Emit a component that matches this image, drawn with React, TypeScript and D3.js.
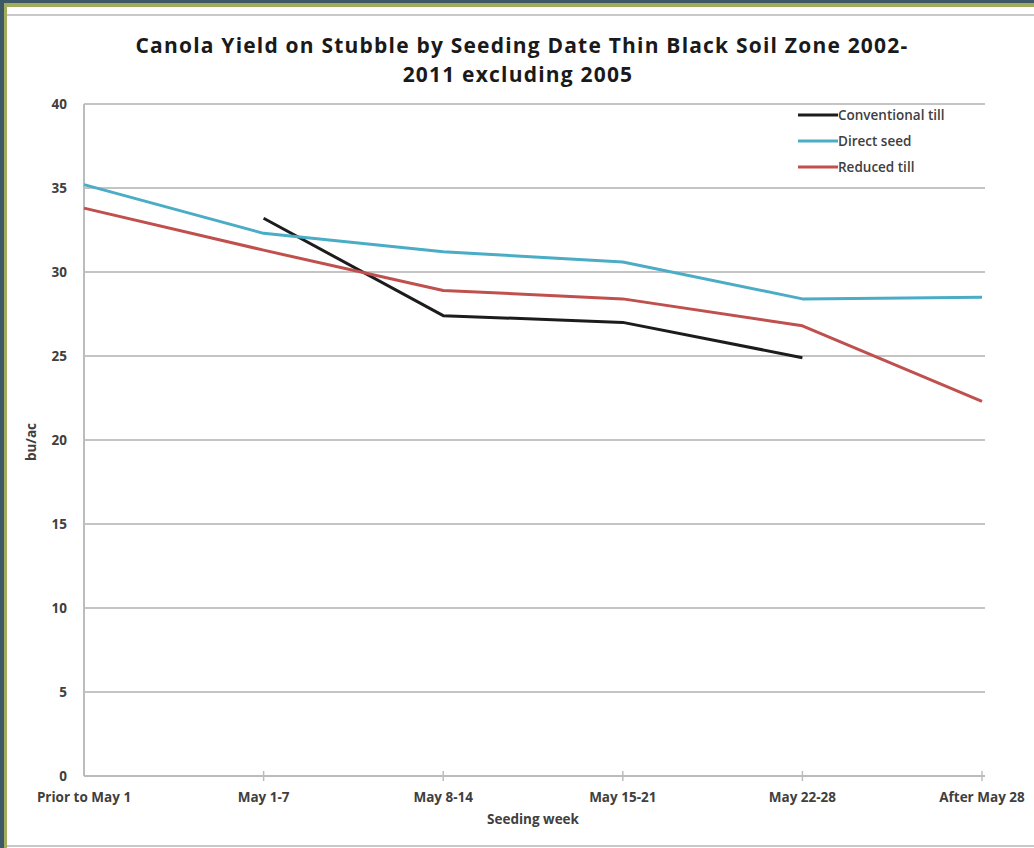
import { useEffect, useRef } from 'react';
import * as d3 from 'd3';

const weeks = ['Prior to May 1', 'May 1-7', 'May 8-14', 'May 15-21', 'May 22-28', 'After May 28'];
const conventionalTill: (number | null)[] = [null, 33.2, 27.4, 27.0, 24.9, null];
const directSeed: (number | null)[] = [35.2, 32.3, 31.2, 30.6, 28.4, 28.5];
const reducedTill: (number | null)[] = [33.8, 31.3, 28.9, 28.4, 26.8, 22.3];
const yTicks = [0, 5, 10, 15, 20, 25, 30, 35, 40];

const seriesList = [
  { name: 'Conventional till', values: conventionalTill, color: '#1c1c1c' },
  { name: 'Direct seed', values: directSeed, color: '#4bacc6' },
  { name: 'Reduced till', values: reducedTill, color: '#c0504d' },
];

const App = () => {
  const ref = useRef<HTMLDivElement>(null);

  useEffect(() => {
    if (!ref.current) return;
    d3.select(ref.current).selectAll('*').remove();

    const width = 1034;
    const height = 848;
    const font = '"Open Sans", "DejaVu Sans", sans-serif';
    const labelSize = 13.5;

    const svg = d3.select(ref.current)
      .append('svg')
      .attr('width', width)
      .attr('height', height)
      .style('display', 'block');

    // frame: dark background, olive border, white card
    svg.append('rect').attr('width', width).attr('height', height).attr('fill', '#3d5866');
    svg.append('rect').attr('x', 4).attr('y', 3).attr('width', width - 4).attr('height', height - 3).attr('fill', '#a3ab5c');
    svg.append('rect').attr('x', 7).attr('y', 7).attr('width', width - 7).attr('height', height - 7).attr('fill', '#ffffff');
    svg.append('line').attr('x1', 7).attr('x2', width).attr('y1', 15).attr('y2', 15)
      .attr('stroke', '#c8c8c8').attr('stroke-width', 2);
    svg.append('line').attr('x1', 7).attr('x2', width).attr('y1', 846).attr('y2', 846)
      .attr('stroke', '#c8c8c8').attr('stroke-width', 2);

    const left = 84, right = 982, top = 104, bottom = 776;

    const x = d3.scalePoint<string>().domain(weeks).range([left, right]);
    const y = d3.scaleLinear().domain([0, 40]).range([bottom, top]);

    // gridlines
    svg.append('g')
      .selectAll('line')
      .data(yTicks.filter(t => t > 0))
      .join('line')
      .attr('x1', left)
      .attr('x2', right + 3)
      .attr('y1', d => y(d))
      .attr('y2', d => y(d))
      .attr('stroke', '#c4c4c4')
      .attr('stroke-width', 2);

    // y axis
    svg.append('line').attr('x1', left).attr('x2', left).attr('y1', top).attr('y2', bottom)
      .attr('stroke', '#bcbcbc').attr('stroke-width', 2);
    svg.append('g')
      .selectAll('text')
      .data(yTicks)
      .join('text')
      .attr('x', 67)
      .attr('y', d => y(d))
      .attr('dy', '0.35em')
      .attr('text-anchor', 'end')
      .attr('font-family', font)
      .attr('font-weight', 'bold')
      .attr('font-size', labelSize)
      .attr('fill', '#404040')
      .text(d => d);

    // x axis
    svg.append('line').attr('x1', left).attr('x2', right + 3).attr('y1', bottom).attr('y2', bottom)
      .attr('stroke', '#bcbcbc').attr('stroke-width', 2);
    svg.append('g')
      .selectAll('line')
      .data(weeks.slice(1))
      .join('line')
      .attr('x1', d => x(d)!)
      .attr('x2', d => x(d)!)
      .attr('y1', bottom - 5)
      .attr('y2', bottom + 5)
      .attr('stroke', '#bcbcbc')
      .attr('stroke-width', 1.5);
    svg.append('g')
      .selectAll('text')
      .data(weeks)
      .join('text')
      .attr('x', d => x(d)!)
      .attr('y', 802)
      .attr('text-anchor', 'middle')
      .attr('font-family', font)
      .attr('font-weight', 'bold')
      .attr('font-size', labelSize)
      .attr('fill', '#404040')
      .text(d => d);

    // axis titles
    svg.append('text')
      .attr('x', 533)
      .attr('y', 824)
      .attr('text-anchor', 'middle')
      .attr('font-family', font)
      .attr('font-weight', 'bold')
      .attr('font-size', labelSize)
      .attr('fill', '#404040')
      .text('Seeding week');
    svg.append('text')
      .attr('transform', 'translate(36,442) rotate(-90)')
      .attr('text-anchor', 'middle')
      .attr('font-family', font)
      .attr('font-weight', 'bold')
      .attr('font-size', labelSize)
      .attr('fill', '#404040')
      .text('bu/ac');

    // title
    const title = svg.append('text')
      .attr('text-anchor', 'middle')
      .attr('font-family', font)
      .attr('font-weight', 'bold')
      .attr('font-size', 21)
      .attr('letter-spacing', 1.2)
      .attr('fill', '#1a1a1a');
    title.append('tspan').attr('x', 522).attr('y', 53)
      .text('Canola Yield on Stubble by Seeding Date Thin Black Soil Zone 2002-');
    title.append('tspan').attr('x', 518).attr('y', 82).text('2011 excluding 2005');

    // lines
    const line = d3.line<number | null>()
      .defined(d => d !== null)
      .x((_, i) => x(weeks[i])!)
      .y(d => y(d as number));

    svg.append('g')
      .selectAll('path')
      .data(seriesList)
      .join('path')
      .attr('fill', 'none')
      .attr('stroke', d => d.color)
      .attr('stroke-width', 3)
      .attr('stroke-linejoin', 'round')
      .attr('d', d => line(d.values));

    // legend
    const legend = svg.append('g')
      .selectAll('g')
      .data(seriesList)
      .join('g')
      .attr('transform', (_, i) => `translate(798,${115 + i * 26})`);
    legend.append('line')
      .attr('x1', 0).attr('x2', 40)
      .attr('stroke', d => d.color)
      .attr('stroke-width', 3);
    legend.append('text')
      .attr('x', 40)
      .attr('dy', '0.35em')
      .attr('font-family', font)
      .attr('font-weight', 600)
      .attr('font-size', labelSize)
      .attr('fill', '#404040')
      .text(d => d.name);
  }, []);

  return <div ref={ref} style={{ position: 'absolute', left: 0, top: 0 }} />;
};

export default App;
